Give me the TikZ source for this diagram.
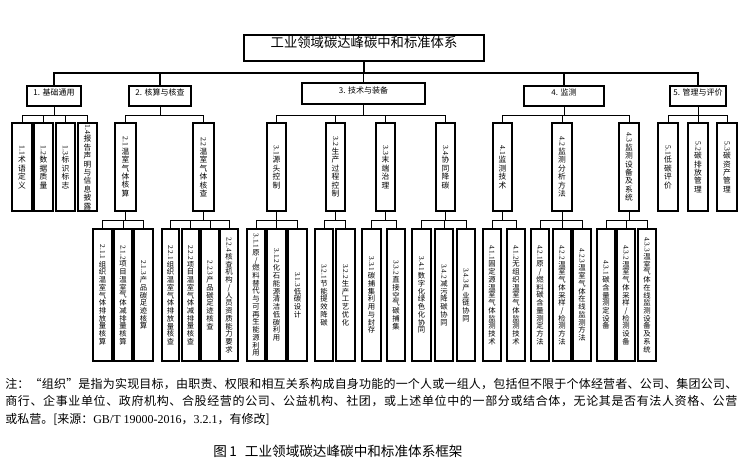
\documentclass[tikz,border=0pt]{standalone}
\usepackage{fontspec}
\setmainfont{Liberation Serif}
\newfontfamily\cjk{Noto Sans CJK SC}
\usepackage{tikz}
\usetikzlibrary{fit}

% vertical text: number turned, characters stacked
\def\vchars#1{\ifx#1\relax\else\\#1\expandafter\vchars\fi}
\newcommand\vlabel[2]{\rotatebox{-90}{\rmfamily #1}\vchars#2\relax}
\newcommand\subbox[5]{\node[subcell, fit={(#2,123) (#3,211)}] (#1) {\vlabel{#4}{#5}};}
\newcommand\leafbox[5]{\node[leafcell, fit={(#2,229) (#3,361)}] (#1) {\vlabel{#4}{#5}};}
% justified note line: glue after every character
\def\spreadchars#1{\ifx#1\relax\else#1\hskip 0pt plus 1fil\relax\expandafter\spreadchars\fi}
\newcommand\fullline[1]{\makebox[549pt][s]{\spreadchars#1\relax\unskip}}

\tikzset{
  box/.style={draw, line width=0.8pt, inner sep=0pt, font=\cjk\fontsize{6}{7}\selectfont},
  subcell/.style={box, align=center, font=\cjk\fontsize{5.8}{6.3}\selectfont},
  leafcell/.style={box, align=center, font=\cjk\fontsize{5.5}{5.8}\selectfont},
  conn/.style={line width=0.7pt},
  trunk/.style={line width=1.1pt},
}

\begin{document}
\begin{tikzpicture}[x=0.75pt,y=-0.75pt]
\useasboundingbox (0,0) rectangle (741,465);
% top
\node[box, font=\cjk\fontsize{10}{12}\selectfont, fit={(244,35) (484,61)}] (root) {工业领域碳达峰碳中和标准体系};
% categories
\node[box, fit={(27,86) (81,106)}] (c1) {1. 基础通用};
\node[box, fit={(129,86) (191,106)}] (c2) {2. 核算与核查};
\node[box, fit={(302,83) (425,104)}] (c3) {3. 技术与装备};
\node[box, fit={(524,86) (604,106)}] (c4) {4. 监测};
\node[box, fit={(670,86) (726,106)}] (c5) {5. 管理与评价};
% second level
\subbox{s11}{12}{32}{1.1}{术语定义}
\subbox{s12}{34}{53}{1.2}{数据质量}
\subbox{s13}{56}{75}{1.3}{标识标志}
\subbox{s14}{78}{97}{1.4}{报告声明与信息披露}
\subbox{s21}{115}{136}{2.1}{温室气体核算}
\subbox{s22}{193}{214}{2.2}{温室气体核查}
\subbox{s31}{267}{286}{3.1}{源头控制}
\subbox{s32}{326}{345}{3.2}{生产过程控制}
\subbox{s33}{376}{395}{3.3}{末端治理}
\subbox{s34}{436}{455}{3.4}{协同降碳}
\subbox{s41}{493}{512}{4.1}{监测技术}
\subbox{s42}{552}{572}{4.2}{监测分析方法}
\subbox{s43}{619}{639}{4.3}{监测设备及系统}
\subbox{s51}{658}{678}{5.1}{低碳评价}
\subbox{s52}{688}{708}{5.2}{碳排放管理}
\subbox{s53}{717}{737}{5.3}{碳资产管理}
% third level
\leafbox{l211}{93}{112}{2.1.1}{组织温室气体排放量核算}
\leafbox{l212}{114}{132}{2.1.2}{项目温室气体减排量核算}
\leafbox{l213}{134}{153}{2.1.3}{产品碳足迹核算}
\leafbox{l221}{162}{179}{2.2.1}{组织温室气体排放量核查}
\leafbox{l222}{182}{199}{2.2.2}{项目温室气体减排量核查}
\leafbox{l223}{201}{219}{2.2.3}{产品碳足迹核查}
\leafbox{l224}{220}{238}{2.2.4}{核查机构/人员资质能力要求}
\leafbox{l311}{247}{265}{3.1.1}{原/燃料替代与可再生能源利用}
\leafbox{l312}{267}{286}{3.1.2}{化石能源清洁低碳利用}
\leafbox{l313}{288}{307}{3.1.3}{低碳设计}
\leafbox{l321}{315}{333}{3.2.1}{节能提效降碳}
\leafbox{l322}{336}{355}{3.2.2}{生产工艺优化}
\leafbox{l331}{362}{381}{3.3.1}{碳捕集利用与封存}
\leafbox{l332}{387}{405}{3.3.2}{直接空气碳捕集}
\leafbox{l341}{412}{431}{3.4.1}{数字化绿色化协同}
\leafbox{l342}{435}{453}{3.4.2}{减污降碳协同}
\leafbox{l343}{457}{475}{3.4.3}{产业链协同}
\leafbox{l411}{483}{501}{4.1.1}{固定源温室气体监测技术}
\leafbox{l412}{507}{525}{4.1.2}{无组织温室气体监测技术}
\leafbox{l421}{531}{549}{4.2.1}{原/燃料碳含量测定方法}
\leafbox{l422}{553}{571}{4.2.2}{温室气体采样/检测方法}
\leafbox{l423}{573}{591}{4.2.3}{温室气体在线监测方法}
\leafbox{l431}{597}{615}{4.3.1}{碳含量测定设备}
\leafbox{l432}{617}{635}{4.3.2}{温室气体采样/检测设备}
\leafbox{l433}{638}{656}{4.3.3}{温室气体在线监测设备及系统}
% connectors
\foreach \c in {c1,c2,c3,c4,c5}
  \draw[trunk] (root.south) -- (root.south |- 0,73) -| (\c.north);
\foreach \p/\kids in {c1/{s11,s12,s13,s14}, c2/{s21,s22}, c3/{s31,s32,s33,s34}, c4/{s41,s42,s43}, c5/{s51,s52,s53}}
  \foreach \k in \kids \draw[conn] (\p.south) -- (\p.south |- 0,115) -| (\k.north);
\foreach \p/\kids in {s21/{l211,l212,l213}, s22/{l221,l222,l223,l224}, s31/{l311,l312,l313}, s32/{l321,l322}, s33/{l331,l332}, s34/{l341,l342,l343}, s41/{l411,l412}, s42/{l421,l422,l423}, s43/{l431,l432,l433}}
  \foreach \k in \kids \draw[conn] (\p.south) -- (\p.south |- 0,220) -| (\k.north);
% note and caption
\node[anchor=north west, inner sep=0pt, align=left, font=\cjk\fontsize{9}{13.1}\selectfont] (note) at (5,378)
  {\fullline{注：“组织”是指为实现目标，由职责、权限和相互关系构成自身功能的一个人或一组人，包括但不限于个体经营者、公司、集团公司、}\\
   \fullline{商行、企事业单位、政府机构、合股经营的公司、公益机构、社团，或上述单位中的一部分或结合体，无论其是否有法人资格、公营}\\
   或私营。[来源：{\rmfamily GB/T 19000-2016}，{\rmfamily 3.2.1}，有修改]};
\node[inner sep=0pt, font=\cjk\fontsize{10.2}{12}\selectfont] (cap) at (338,451) {图\,1\hspace{0.6em}工业领域碳达峰碳中和标准体系框架};
\end{tikzpicture}
\end{document}
